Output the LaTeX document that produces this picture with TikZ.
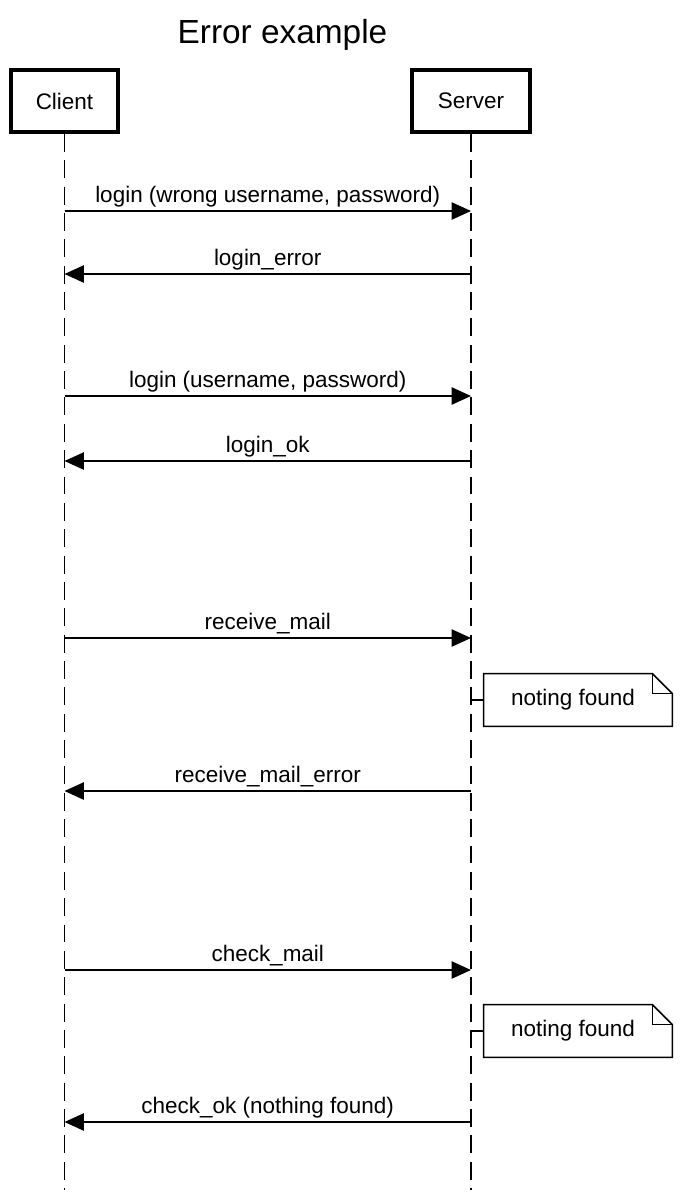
\documentclass[tikz,border=0pt]{standalone}
\usepackage{fontspec}
\setmainfont{Liberation Sans}
\usetikzlibrary{arrows.meta,calc}
\begin{document}
\begin{tikzpicture}[x=0.02cm,y=-0.02cm,
  actor/.style={draw,line width=2.2pt,minimum width=2.14cm,minimum height=1.24cm,inner sep=0pt,font=\fontsize{12.8}{15}\selectfont},
  lifeline/.style={line width=0.95pt,dash pattern=on 10.2pt off 4.8pt},
  msg/.style={line width=0.9pt,-{Triangle[length=11pt,width=9.8pt]}},
  lbl/.style={anchor=base,yshift=0.18cm,inner sep=0pt,font=\fontsize{12.8}{15}\selectfont},
  notebox/.style={minimum width=3.76cm,minimum height=1.04cm,inner sep=0pt,font=\fontsize{12.8}{15}\selectfont},
  noteline/.style={line width=0.9pt}
]
\useasboundingbox (0,0) rectangle (682,1197);
\node[anchor=base,font=\fontsize{19}{23}\selectfont] (title) at (282.5,43) {Error example};
\node[actor] (client) at (64.5,101) {Client};
\node[actor,minimum width=2.36cm] (server) at (471,101) {Server};
\coordinate (cend) at (64.5,1190);
\coordinate (send) at (471,1190);
\draw[lifeline] (client.south) -- (cend);
\draw[lifeline] (server.south) -- (send);
% message end points
\foreach \i/\y in {1/211,2/274,3/396,4/461,5/638,6/791,7/970,8/1122}{
  \coordinate (c\i) at (64.5,\y);
  \coordinate (s\i) at (471,\y);
}
\draw[msg] (c1) -- node[lbl]{login (wrong username, password)} (s1);
\draw[msg] (s2) -- node[lbl]{login\_error} (c2);
\draw[msg] (c3) -- node[lbl]{login (username, password)} (s3);
\draw[msg] (s4) -- node[lbl]{login\_ok} (c4);
\draw[msg] (c5) -- node[lbl]{receive\_mail} (s5);
\draw[msg] (s6) -- node[lbl]{receive\_mail\_error} (c6);
\draw[msg] (c7) -- node[lbl]{check\_mail} (s7);
\draw[msg] (s8) -- node[lbl]{check\_ok (nothing found)} (c8);
% notes
\foreach \n/\y in {note1/700,note2/1031}{
  \node[notebox] (\n) at (578,\y) {\hspace*{-0.2cm}noting found};
  \draw[noteline] (\n.south west) -- (\n.north west) -- ($(\n.north east)+(-20,0)$) -- ($(\n.north east)+(0,20)$) -- (\n.south east) -- cycle;
  \draw[noteline] ($(\n.north east)+(-20,0)$) -- ($(\n.north east)+(-20,20)$) -- ($(\n.north east)+(0,20)$);
  \coordinate (\n l) at (471,\y);
  \draw[noteline] (\n l) -- (\n.west);
}
\end{tikzpicture}
\end{document}
